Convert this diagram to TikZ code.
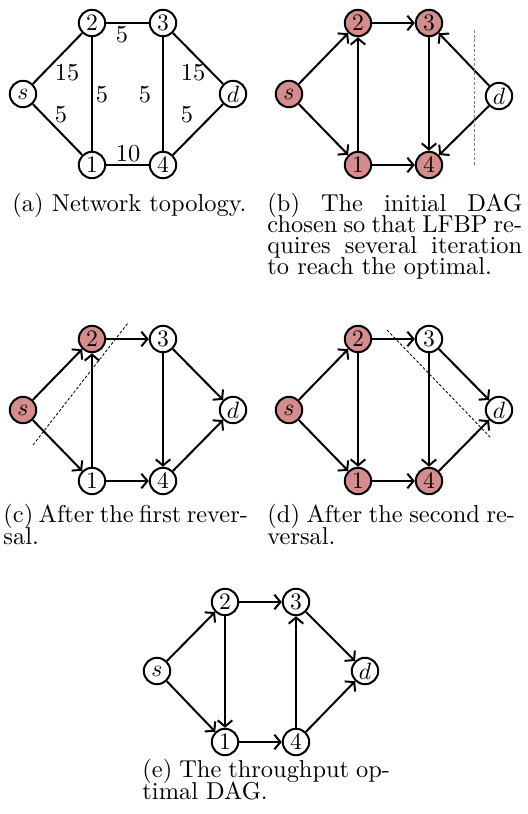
\documentclass[tikz,border=0pt]{standalone}
\usetikzlibrary{arrows.meta}
\definecolor{visited}{RGB}{212,140,140}
\setlength{\lineskiplimit}{-100pt}
\begin{document}
\begin{tikzpicture}[x=0.424pt,y=-0.424pt,
		every node/.append style={font=\fontsize{10.35pt}{12pt}\selectfont},
		vertex/.style={circle,draw,line width=0.85pt,inner sep=0pt,minimum size=11.2pt},
		link/.style={line width=0.85pt},
		arc/.style={link,-{Straight Barb[length=2.6pt,width=6.2pt]}},
		weight/.style={inner sep=0pt},
		cut/.style={line width=0.35pt,dash pattern=on 1.2pt off 0.8pt},
		caption/.style={anchor=base west,inner sep=0pt,align=left,
			font=\fontsize{10.35pt}{9pt}\selectfont}]
	\useasboundingbox (0,0) rectangle (528,814);

	\begin{scope}[shift={(23,94)}]
		\foreach \n/\x/\y in {s/0/0, 2/69/-71, 3/140/-71, d/210/0, 1/69/71, 4/140/71}
			\node[vertex,fill=white] (a\n) at (\x,\y) {$\n$};
		\draw[link] (as) -- node[weight,shift={(9.5,14.5)}] {15} (a2);
		\draw[link] (as) -- node[weight,shift={(3.5,-14.5)}] {5} (a1);
		\draw[link] (a2) -- node[weight,shift={(-5.5,12)}] {5} (a3);
		\draw[link] (a2) -- node[weight,shift={(10,1)}] {5} (a1);
		\draw[link] (a3) -- node[weight,shift={(-18,1)}] {5} (a4);
		\draw[link] (a3) -- node[weight,shift={(-5,14.5)}] {15} (ad);
		\draw[link] (a4) -- node[weight,shift={(-11,-14.5)}] {5} (ad);
		\draw[link] (a1) -- node[weight,shift={(0.5,-11)}] {10} (a4);
	\end{scope}
	\node[caption] (capa) at (12,212) {(a) Network topology.};

	\begin{scope}[shift={(289,94)}]
		\foreach \n/\x/\y/\c in {s/0/0/visited, 2/69/-71/visited, 3/140/-71/visited, d/210/2/white, 1/69/71/visited, 4/140/71/visited}
			\node[vertex,fill=\c] (b\n) at (\x,\y) {$\n$};
		\draw[arc] (bs) -- (b2);
		\draw[arc] (bs) -- (b1);
		\draw[arc] (b1) -- (b2);
		\draw[arc] (b2) -- (b3);
		\draw[arc] (b1) -- (b4);
		\draw[arc] (b3) -- (b4);
		\draw[arc] (bd) -- (b3);
		\draw[arc] (bd) -- (b4);
		\draw[cut,gray] (185,-64) -- (185,72);
	\end{scope}
	\node[caption] (capb) at (267,275) {\makebox[108pt][s]{(b) The initial DAG}\\
		\makebox[108pt][s]{chosen so that LFBP re-}\\
		\makebox[108pt][s]{quires several iteration}\\
		to reach the optimal.};

	\begin{scope}[shift={(23,410)}]
		\foreach \n/\x/\y/\c in {s/0/0/visited, 2/69/-71/visited, 3/140/-71/white, d/210/0/white, 1/69/71/white, 4/140/71/white}
			\node[vertex,fill=\c] (c\n) at (\x,\y) {$\n$};
		\draw[arc] (cs) -- (c2);
		\draw[arc] (cs) -- (c1);
		\draw[arc] (c1) -- (c2);
		\draw[arc] (c2) -- (c3);
		\draw[arc] (c1) -- (c4);
		\draw[arc] (c3) -- (c4);
		\draw[arc] (c3) -- (cd);
		\draw[arc] (c4) -- (cd);
		\draw[cut] (10,35) -- (105,-87);
	\end{scope}
	\node[caption] (capc) at (3,544) {\makebox[103.5pt][s]{(c) After the first rever-}\\ sal.};

	\begin{scope}[shift={(289,410)}]
		\foreach \n/\x/\y/\c in {s/0/0/visited, 2/69/-71/visited, 3/140/-71/white, d/210/0/white, 1/69/71/visited, 4/140/71/visited}
			\node[vertex,fill=\c] (d\n) at (\x,\y) {$\n$};
		\draw[arc] (ds) -- (d2);
		\draw[arc] (ds) -- (d1);
		\draw[arc] (d2) -- (d1);
		\draw[arc] (d2) -- (d3);
		\draw[arc] (d1) -- (d4);
		\draw[arc] (d3) -- (d4);
		\draw[arc] (d3) -- (dd);
		\draw[arc] (d4) -- (dd);
		\draw[cut] (98,-80) -- (201,27);
	\end{scope}
	\node[caption] (capd) at (267,544) {\makebox[105pt][s]{(d) After the second re-}\\ versal.};

	\begin{scope}[shift={(157,671)}]
		\foreach \n/\x/\y in {s/0/0, 2/68/-69, 3/139/-69, d/208/0, 1/68/71, 4/139/71}
			\node[vertex,fill=white] (e\n) at (\x,\y) {$\n$};
		\draw[arc] (es) -- (e2);
		\draw[arc] (es) -- (e1);
		\draw[arc] (e2) -- (e1);
		\draw[arc] (e2) -- (e3);
		\draw[arc] (e1) -- (e4);
		\draw[arc] (e4) -- (e3);
		\draw[arc] (e3) -- (ed);
		\draw[arc] (e4) -- (ed);
	\end{scope}
	\node[caption] (cape) at (142,799) {\makebox[105pt][s]{(e) The throughput op-}\\ timal DAG.};
\end{tikzpicture}
\end{document}
